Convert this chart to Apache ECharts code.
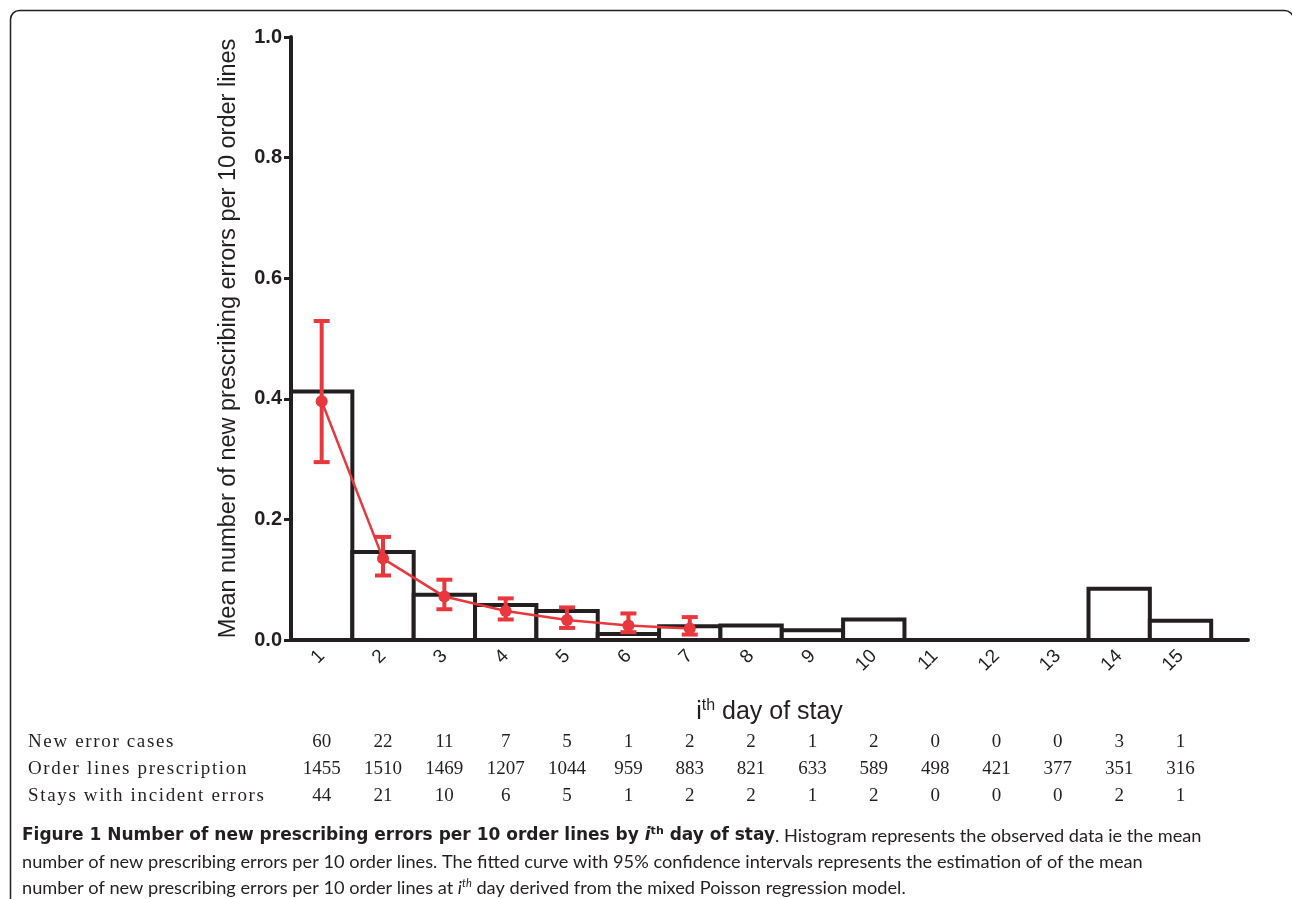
<!DOCTYPE html>
<html>
<head>
<meta charset="utf-8">
<script src="https://cdn.jsdelivr.net/npm/echarts@6/dist/echarts.min.js"></script>
<style>
html,body{margin:0;padding:0;background:#fff;}
#main{width:1292px;height:899px;}
</style>
</head>
<body>
<div id="main"></div>
<script>
// ---- data ----
const days = [1,2,3,4,5,6,7,8,9,10,11,12,13,14,15];
const observedMean = [0.412,0.146,0.075,0.058,0.048,0.010,0.023,0.024,0.016,0.034,0,0,0,0.085,0.032];
const fitDays = [1,2,3,4,5,6,7];
const fitMean = [0.396,0.135,0.072,0.048,0.033,0.024,0.019];
const fitLow  = [0.295,0.107,0.051,0.034,0.020,0.013,0.009];
const fitHigh = [0.529,0.171,0.100,0.069,0.054,0.044,0.038];
const newErrorCases = [60,22,11,7,5,1,2,2,1,2,0,0,0,3,1];
const orderLines = [1455,1510,1469,1207,1044,959,883,821,633,589,498,421,377,351,316];
const staysWithErrors = [44,21,10,6,5,1,2,2,1,2,0,0,0,2,1];
const rowLabels = ['New error cases','Order lines prescription','Stays with incident errors'];

const INK = '#231f20';
const RED = '#e8383d';
const SANS = '"Liberation Sans", Arial, sans-serif';
const SERIF = '"Liberation Serif", "Times New Roman", serif';
const CAP = 'Lato, "Noto Sans", sans-serif';
const CAPB = '"DejaVu Sans", Lato, sans-serif';

const chart = echarts.init(document.getElementById('main'), null, {renderer:'canvas'});

// letter-spaced label: one rich token per character
function spaced(label){
  return label.split('').map(ch => '{c|' + ch + '}').join('');
}

function tableAxis(values, label, offset){
  return {
    type:'value', min:0.5, max:16.1, gridIndex:0, position:'bottom', offset:offset,
    axisLine:{show:false}, axisTick:{show:false}, splitLine:{show:false},
    axisLabel:{customValues:days, margin:0, verticalAlign:'middle',
      fontFamily:SERIF, fontSize:19, color:INK,
      formatter:(v)=>String(values[Math.round(v)-1])},
    name:spaced(label), nameLocation:'start', nameGap:263,
    nameTextStyle:{align:'left', verticalAlign:'middle', fontFamily:SERIF, fontSize:19, color:INK,
      rich:{c:{fontFamily:SERIF, fontSize:19, color:INK, padding:[0,1.65,0,0]}}}
  };
}

const option = {
  animation:false,
  backgroundColor:'#fff',
  grid:{left:291, top:37, right:44, bottom:259, containLabel:false},
  xAxis:[
    {
      type:'value', min:0.5, max:16.1,
      axisLine:{show:true, lineStyle:{color:INK, width:4}},
      axisTick:{show:false},
      splitLine:{show:false},
      axisLabel:{customValues:days, rotate:45, margin:13, fontFamily:SANS, fontSize:19, color:INK,
        formatter:(v)=>String(Math.round(v))},
      name:'{i|i}{sup|th}{n| day of stay}', nameLocation:'middle', nameGap:58,
      nameTextStyle:{rich:{
        i:{fontFamily:SANS, fontSize:25, color:INK},
        sup:{fontFamily:SANS, fontSize:16, color:INK, padding:[0,0,13,0]},
        n:{fontFamily:SANS, fontSize:25, color:INK}
      }}
    },
    tableAxis(newErrorCases, rowLabels[0], 102),
    tableAxis(orderLines, rowLabels[1], 129),
    tableAxis(staysWithErrors, rowLabels[2], 156)
  ],
  yAxis:{
    type:'value', min:0, max:1, interval:0.2,
    axisLine:{show:true, lineStyle:{color:INK, width:4}},
    axisTick:{show:true, length:7, lineStyle:{color:INK, width:3}},
    splitLine:{show:false},
    axisLabel:{margin:9, fontFamily:SANS, fontSize:20, fontWeight:'bold', color:INK,
      formatter:(v)=>v.toFixed(1)},
    name:'Mean number of new prescribing errors per 10 order lines',
    nameLocation:'middle', nameGap:50,
    nameTextStyle:{fontFamily:SANS, fontSize:23.5, color:INK}
  },
  series:[
    {
      type:'custom', name:'observed', z:3,
      data: days.map((d,i)=>[d, observedMean[i]]),
      renderItem:(params, api)=>{
        const x = api.value(0), v = api.value(1);
        const p0 = api.coord([x-0.5, v]);
        const p1 = api.coord([x+0.5, 0]);
        return {type:'rect', shape:{x:p0[0], y:p0[1], width:p1[0]-p0[0], height:p1[1]-p0[1]},
          style:{fill:'#fff', stroke:INK, lineWidth:4}};
      }
    },
    {
      type:'custom', name:'ci', z:5,
      data: fitDays.map((d,i)=>[d, fitLow[i], fitHigh[i]]),
      renderItem:(params, api)=>{
        const x = api.value(0);
        const lo = api.coord([x, api.value(1)]);
        const hi = api.coord([x, api.value(2)]);
        const hw = 8;
        const st = {stroke:RED, lineWidth:4};
        return {type:'group', children:[
          {type:'line', shape:{x1:lo[0], y1:lo[1], x2:hi[0], y2:hi[1]}, style:st},
          {type:'line', shape:{x1:lo[0]-hw, y1:lo[1], x2:lo[0]+hw, y2:lo[1]}, style:st},
          {type:'line', shape:{x1:hi[0]-hw, y1:hi[1], x2:hi[0]+hw, y2:hi[1]}, style:st}
        ]};
      }
    },
    {
      type:'line', name:'fitted', z:6,
      data: fitDays.map((d,i)=>[d, fitMean[i]]),
      symbol:'circle', symbolSize:12,
      lineStyle:{color:RED, width:2.5},
      itemStyle:{color:RED}
    }
  ],
  graphic:[
    {type:'rect', left:8, top:8, shape:{x:0, y:0, width:1283, height:920, r:9},
      style:{fill:null, stroke:INK, lineWidth:1.5}, z:0, silent:true},
    {type:'text', left:22, top:826, z:10,
      style:{
        text:'{b|Figure 1 Number of new prescribing errors per 10 order lines by }{bi|i}{bsup|th}{b| day of stay}{r|. Histogram represents the observed data ie the mean}\n' +
             '{r|number of new prescribing errors per 10 order lines. The fitted curve with 95% confidence intervals represents the estimation of of the mean}\n' +
             '{r|number of new prescribing errors per 10 order lines at }{ri|i}{rsup|th}{r| day derived from the mixed Poisson regression model.}',
        rich:{
          b:{fontFamily:CAPB, fontSize:17, fontWeight:'bold', fill:INK, lineHeight:26},
          bi:{fontFamily:CAPB, fontSize:17, fontWeight:'bold', fontStyle:'italic', fill:INK, lineHeight:26},
          bsup:{fontFamily:CAPB, fontSize:11, fontWeight:'bold', fill:INK, padding:[0,0,9,0]},
          r:{fontFamily:CAP, fontSize:18.2, fill:INK, lineHeight:26},
          ri:{fontFamily:CAP, fontSize:18.2, fontStyle:'italic', fill:INK, lineHeight:26},
          rsup:{fontFamily:CAP, fontSize:11, fontStyle:'italic', fill:INK, padding:[0,0,9,0]}
        }
      }
    }
  ]
};
chart.setOption(option);
</script>
</body>
</html>
